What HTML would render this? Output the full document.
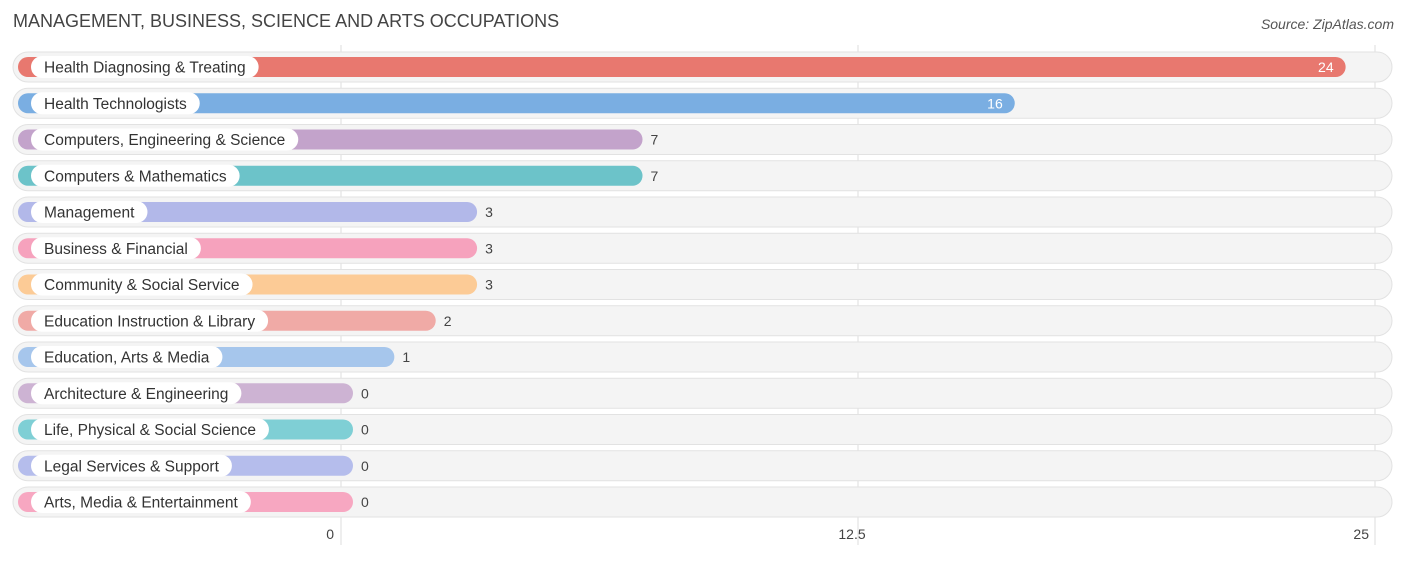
<!DOCTYPE html>
<html><head><meta charset="utf-8"><style>
body{margin:0;background:#fff;width:1406px;height:558px;overflow:hidden;font-family:"Liberation Sans",sans-serif;}
svg text{font-family:"Liberation Sans",sans-serif;}
</style></head><body>
<svg id="chart" width="1406" height="558">
<text x="13" y="27" font-size="18" fill="#444">MANAGEMENT, BUSINESS, SCIENCE AND ARTS OCCUPATIONS</text>
<text x="1394" y="29" font-size="14" fill="#555" font-style="italic" text-anchor="end">Source: ZipAtlas.com</text>
<g id="grid"></g><g id="rows"></g><g id="ticks"></g>
</svg>
<script>
const categories=["Health Diagnosing & Treating","Health Technologists","Computers, Engineering & Science","Computers & Mathematics","Management","Business & Financial","Community & Social Service","Education Instruction & Library","Education, Arts & Media","Architecture & Engineering","Life, Physical & Social Science","Legal Services & Support","Arts, Media & Entertainment"];
const values=[24,16,7,7,3,3,3,2,1,0,0,0,0];
const colors=["#e8786f","#7aaee2","#c3a3cb","#6cc3c9","#b2b8e9","#f6a2bd","#fccb96","#f0aaa6","#a6c6ec","#cdb3d3","#7fcfd5","#b5bdec","#f7a7c1"];
const tickValues=[0,12.5,25];
const tickLabels=["0","12.5","25"];
const NS="http://www.w3.org/2000/svg";
const x0=341,pxPer=41.36;
const xs=v=>x0+v*pxPer;
const ys=i=>67+i*36.25;
function mk(tag,attrs,parent){const e=document.createElementNS(NS,tag);for(const k in attrs)e.setAttribute(k,attrs[k]);parent.appendChild(e);return e;}
const grid=document.getElementById('grid'),rows=document.getElementById('rows'),ticks=document.getElementById('ticks');
tickValues.forEach((t,i)=>{
 const l=mk('line',{x1:xs(t),x2:xs(t),y1:45,y2:545,stroke:'#ddd','stroke-width':1},grid);
 
 
 const tx=mk('text',{x:xs(t)-(i==1?6:(i==0?7:6)),y:539,'font-size':14,fill:'#444','text-anchor':i==1?'middle':'end'},ticks);
 tx.textContent=tickLabels[i];
 
 
});
categories.forEach((c,i)=>{
 const y=ys(i);
 const g=mk('g',{},rows);
 
 
 mk('rect',{x:13,y:y-15,width:1379,height:30,rx:15,fill:'#f4f4f4',stroke:'#e2e2e2','stroke-width':1},g);
 const end=xs(values[i])+12;
 const b=mk('rect',{x:18,y:y-10,width:end-18,height:20,rx:10,fill:colors[i]},g);
 
 
 const lbl=mk('text',{x:44,y:y+5.5,'font-size':15.5,fill:'#333'},g);
 lbl.textContent=c;
 const w=lbl.getComputedTextLength();
 const pill=mk('rect',{x:31,y:y-11,width:w+26,height:22,rx:11,fill:'#fff'},g);
 g.insertBefore(pill,lbl);
 
 
 const inside=values[i]>=10;
 const v=mk('text',{x:inside?end-12:end+8,y:y+5,'font-size':14,fill:inside?'#fff':'#444','text-anchor':inside?'end':'start'},g);
 v.textContent=values[i];
 
 
});
</script>
</body></html>
